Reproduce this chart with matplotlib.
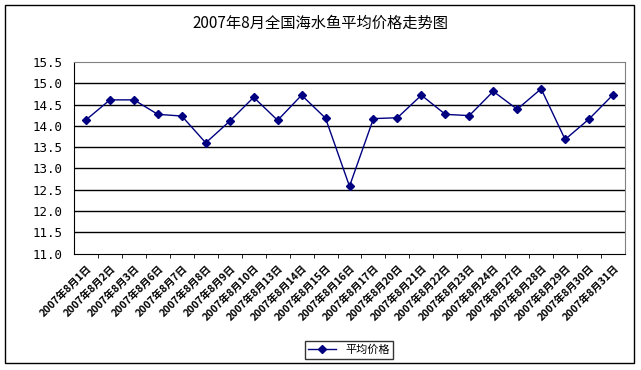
import matplotlib.pyplot as plt
from matplotlib.patches import Rectangle

plt.rcParams['font.family'] = ['Noto Sans CJK SC', 'DejaVu Sans']

# Données
days = [1, 2, 3, 6, 7, 8, 9, 10, 13, 14, 15, 16, 17, 20, 21, 22, 23, 24, 27, 28, 29, 30, 31]
prices = [14.14, 14.61, 14.61, 14.27, 14.23, 13.60, 14.11, 14.67, 14.13, 14.72, 14.18, 12.58,
          14.17, 14.19, 14.72, 14.27, 14.24, 14.81, 14.39, 14.87, 13.68, 14.16, 14.73]
labels = ["2007年8月%d日" % d for d in days]
yticks = [11.0, 11.5, 12.0, 12.5, 13.0, 13.5, 14.0, 14.5, 15.0, 15.5]

fig = plt.figure(figsize=(6.41, 3.70), dpi=100)
W, H = 641, 370

# Cadre extérieur
fig.patches.append(Rectangle((5 / W, 1 - 363 / H), 629 / W, 358 / H, transform=fig.transFigure,
                             fill=False, edgecolor='black', linewidth=1))

ax = fig.add_axes([74 / W, 1 - 253.5 / H, 551 / W, 191.5 / H])
x = list(range(len(days)))
ax.plot(x, prices, color='#000080', linewidth=1, marker='D', markersize=4.5, label="平均价格")

ax.set_xlim(-0.5, len(days) - 0.5)
ax.set_ylim(11.0, 15.5)
ax.set_yticks(yticks)
ax.set_yticklabels(["%.1f" % v for v in yticks], fontsize=9, family='DejaVu Sans Mono')
for v in yticks[1:-1]:
    ax.axhline(v, color='black', linewidth=1, zorder=0)

ax.set_xticks(x)
ax.set_xticklabels(labels, rotation=45, ha='right', rotation_mode='anchor', fontsize=7.5, fontweight='bold')
ax.set_xticks([i + 0.5 for i in x[:-1]], minor=True)
ax.tick_params(axis='x', which='major', length=0, pad=7)
ax.tick_params(axis='x', which='minor', length=3, direction='out')
ax.tick_params(axis='y', length=0, pad=8)

ax.spines['top'].set_color('#808080')
ax.spines['right'].set_color('#808080')

fig.text(320 / W, 1 - 23 / H, "2007年8月全国海水鱼平均价格走势图", ha='center', va='center', fontsize=11)

leg = fig.legend(loc='center', bbox_to_anchor=(349 / W, 1 - 350 / H), fontsize=8,
                 frameon=True, fancybox=False, edgecolor='black', handlelength=2.5,
                 borderpad=0.3)
leg.get_frame().set_linewidth(1)

plt.savefig("out.png", dpi=100)
